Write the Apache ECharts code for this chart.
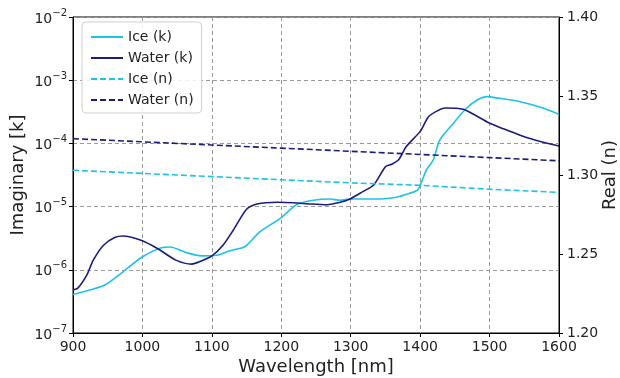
<!DOCTYPE html>
<html><head><meta charset="utf-8">
<script src="https://cdn.jsdelivr.net/npm/echarts@6/dist/echarts.min.js"></script>
<style>html,body{margin:0;padding:0;background:#fff}#c{width:620px;height:378px}</style>
</head><body><div id="c"></div>
<script>
const waterKWl = [900,907,920,929,944,960,972,997,1021,1049,1071,1083,1100,1116,1131,1150,1165,1194,1218,1242,1266,1285,1299,1318,1333,1350,1359,1369,1380,1400,1412,1424,1436,1462,1482,1498,1520,1544,1573,1600];
const waterK = [4.79e-7,5.13e-7,8.3e-7,1.41e-6,2.45e-6,3.24e-6,3.43e-6,2.95e-6,2.19e-6,1.41e-6,1.23e-6,1.35e-6,1.66e-6,2.45e-6,4.27e-6,9.1e-6,1.10e-5,1.17e-5,1.15e-5,1.10e-5,1.07e-5,1.17e-5,1.32e-5,1.74e-5,2.19e-5,4.27e-5,4.68e-5,5.5e-5,8.9e-5,1.55e-4,2.63e-4,3.24e-4,3.63e-4,3.47e-4,2.69e-4,2.14e-4,1.70e-4,1.35e-4,1.07e-4,9.1e-5];
const iceKWl = [900,924,946,972,999,1025,1040,1064,1085,1107,1126,1148,1169,1198,1222,1246,1270,1285,1299,1342,1366,1385,1397,1409,1419,1428,1448,1467,1484,1496,1510,1544,1577,1600];
const iceK = [4.07e-7,4.79e-7,5.75e-7,9.3e-7,1.58e-6,2.19e-6,2.29e-6,1.86e-6,1.66e-6,1.70e-6,2.0e-6,2.34e-6,3.98e-6,6.46e-6,1.07e-5,1.26e-5,1.32e-5,1.26e-5,1.32e-5,1.32e-5,1.41e-5,1.62e-5,1.86e-5,3.80e-5,5.5e-5,1.12e-4,2.09e-4,3.63e-4,5.0e-4,5.5e-4,5.25e-4,4.57e-4,3.63e-4,2.88e-4];
const nWl = [900,1000,1100,1200,1300,1400,1500,1600];
const waterN = [1.323,1.321,1.319,1.317,1.315,1.313,1.311,1.309];
const iceN = [1.303,1.301,1.299,1.297,1.295,1.2935,1.291,1.289];
const seriesNames = ['Ice (k)','Water (k)','Ice (n)','Water (n)'];

const ICE = '#1cc3e6', WATER = '#1c1c7c';
const pairs = (xs, ys) => xs.map((x, i) => [x, ys[i]]);
const chart = echarts.init(document.getElementById('c'));
const gridLine = {show: true, lineStyle: {color: '#9a9a9a', type: [4, 3], width: 1}};
chart.setOption({
  animation: false,
  textStyle: {fontFamily: 'DejaVu Sans'},
  grid: {left: 73, right: 61, top: 17, bottom: 45, outerBoundsMode: 'none', containLabel: false, show: true, borderColor: '#000', borderWidth: 1, backgroundColor: 'transparent'},
  legend: {
    orient: 'vertical', left: 82, top: 22, data: seriesNames,
    itemWidth: 32, itemHeight: 10, itemGap: 7, padding: [8, 8, 6, 8],
    itemStyle: {opacity: 0},
    borderColor: '#cfcfcf', borderWidth: 1, borderRadius: 4, backgroundColor: 'rgba(255,255,255,0.85)',
    textStyle: {fontSize: 14, color: '#222', fontFamily: 'DejaVu Sans'}
  },
  xAxis: {
    type: 'value', min: 900, max: 1600, interval: 100,
    name: 'Wavelength [nm]', nameLocation: 'middle', nameGap: 25, nameMoveOverlap: false,
    nameTextStyle: {fontSize: 18, color: '#222'},
    axisLine: {show: true, lineStyle: {color: '#000'}},
    axisTick: {show: true, length: 4, lineStyle: {color: '#000'}},
    axisLabel: {fontSize: 14, color: '#222', margin: 7, formatter: v => String(v)},
    splitLine: gridLine
  },
  yAxis: [{
    type: 'log', logBase: 10, min: 1e-7, max: 1e-2, position: 'left',
    name: 'Imaginary [k]', nameLocation: 'middle', nameGap: 46, nameMoveOverlap: false,
    nameTextStyle: {fontSize: 18, color: '#222'},
    axisLine: {show: true, lineStyle: {color: '#000'}},
    axisTick: {show: true, length: 4, lineStyle: {color: '#000'}},
    axisLabel: {
      margin: 6, color: '#222',
      formatter: v => '{b|10}{s|\u2212' + Math.round(-Math.log10(v)) + '}',
      rich: {b: {fontSize: 14, color: '#222', padding: [4, 0, 0, 0]}, s: {fontSize: 10, color: '#222', padding: [0, 0, 8, 0]}}
    },
    splitLine: gridLine
  }, {
    type: 'value', min: 1.2, max: 1.4, interval: 0.05, position: 'right',
    name: 'Real (n)', nameLocation: 'middle', nameGap: 42, nameRotate: 90, nameMoveOverlap: false,
    nameTextStyle: {fontSize: 18, color: '#222'},
    axisLine: {show: true, lineStyle: {color: '#000'}},
    axisTick: {show: true, length: 4, lineStyle: {color: '#000'}},
    axisLabel: {fontSize: 14, color: '#222', margin: 8, formatter: v => v.toFixed(2)},
    splitLine: {show: false}
  }],
  series: [
    {name: seriesNames[0], type: 'line', yAxisIndex: 0, data: pairs(iceKWl, iceK), smooth: 0.25, symbol: 'none', lineStyle: {color: ICE, width: 1.6}, itemStyle: {color: ICE}},
    {name: seriesNames[1], type: 'line', yAxisIndex: 0, data: pairs(waterKWl, waterK), smooth: 0.25, symbol: 'none', lineStyle: {color: WATER, width: 1.6}, itemStyle: {color: WATER}},
    {name: seriesNames[2], type: 'line', yAxisIndex: 1, data: pairs(nWl, iceN), symbol: 'none', lineStyle: {color: ICE, width: 1.6, type: [6, 3]}, itemStyle: {color: ICE}},
    {name: seriesNames[3], type: 'line', yAxisIndex: 1, data: pairs(nWl, waterN), symbol: 'none', lineStyle: {color: WATER, width: 1.6, type: [6, 3]}, itemStyle: {color: WATER}}
  ]
});
</script></body></html>
